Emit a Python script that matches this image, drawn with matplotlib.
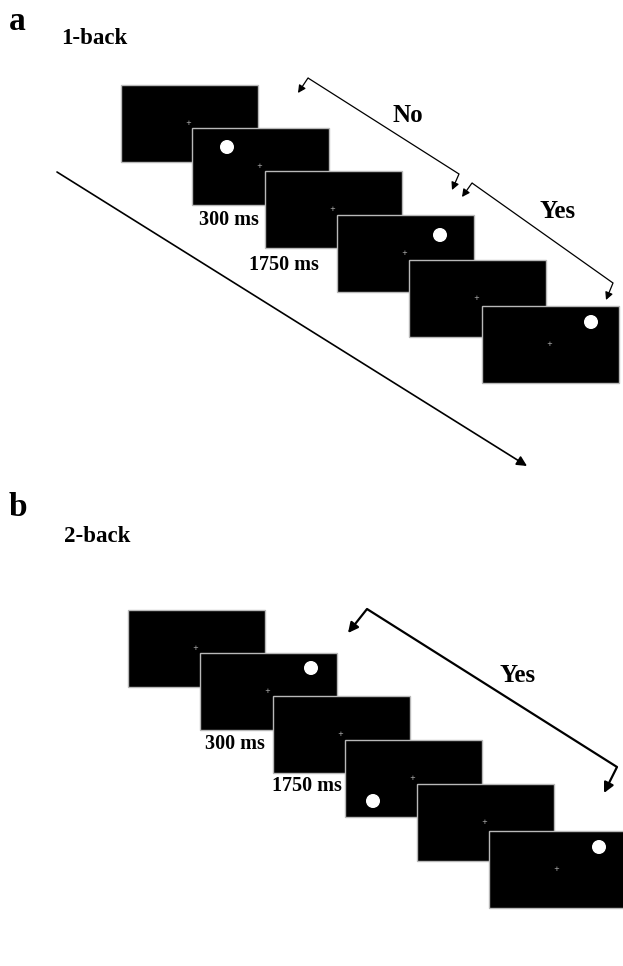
import matplotlib.pyplot as plt
from matplotlib.patches import Rectangle, Circle

plt.rcParams['font.family'] = ['Liberation Serif', 'DejaVu Serif']

# screen top-left corners (pixel coordinates, y down)
screens_a = [(121, 85), (192, 128), (265, 171), (337, 215), (409, 260), (482, 306)]
screens_b = [(128, 610), (200, 653), (273, 696), (345, 740), (417, 784), (489, 831)]
SCREEN_W, SCREEN_H = 137, 77

# stimulus dots and fixation crosses
dots_a = [(227, 147), (440, 235), (591, 322)]
dots_b = [(311, 668), (373, 801), (599, 847)]
cross_off = (67, 38)

# timing labels
time_labels = ["300 ms", "1750 ms"]
time_pos_a = [(229, 220), (284, 265)]
time_pos_b = [(235, 744), (307, 786)]

fig = plt.figure(figsize=(6.23, 9.66), dpi=100)
ax = fig.add_axes([0, 0, 1, 1])
ax.set_xlim(0, 623)
ax.set_ylim(966, 0)
ax.axis('off')


def draw_screens(corners, dots):
    for x, y in corners:
        ax.add_patch(Rectangle((x, y), SCREEN_W, SCREEN_H, facecolor='black',
                               edgecolor='#b8b8b8', lw=1.0))
        ax.text(x + cross_off[0], y + cross_off[1], '+', color='#bbbbbb',
                fontsize=5, ha='center', va='center', family='DejaVu Sans')
    for cx, cy in dots:
        ax.add_patch(Circle((cx, cy), 6.3, color='white'))


def arrow(x0, y0, x1, y1, lw, head=5):
    ax.annotate('', xy=(x1, y1), xytext=(x0, y0),
                arrowprops=dict(arrowstyle=f'-|>,head_length={head/10:.2f},head_width={head/20:.2f}',
                                color='black', lw=lw, shrinkA=0, shrinkB=0))


def bracket(p0, p1, t0, t1, lw, head=5):
    ax.plot([p0[0], p1[0]], [p0[1], p1[1]], color='black', lw=lw, solid_capstyle='butt')
    arrow(p0[0], p0[1], t0[0], t0[1], lw, head)
    arrow(p1[0], p1[1], t1[0], t1[1], lw, head)


# panel a: 1-back
draw_screens(screens_a, dots_a)
for lab, (x, y) in zip(time_labels, time_pos_a):
    ax.text(x, y, lab, fontsize=14.5, fontweight='bold', ha='center', va='center')
arrow(57, 172, 527, 466, 1.2, 6)
bracket((308, 78), (459, 174), (298, 93), (452, 190), 0.9, 4.5)
bracket((472, 183), (613, 283), (462, 197), (606, 300), 0.9, 4.5)
ax.text(408, 115, 'No', fontsize=18, fontweight='bold', ha='center', va='center')
ax.text(558, 212, 'Yes', fontsize=18, fontweight='bold', ha='center', va='center')
ax.text(9, 22, 'a', fontsize=24, fontweight='bold', ha='left', va='center')
ax.text(61, 38, '1-back', fontsize=16.5, fontweight='bold', ha='left', va='center')

# panel b: 2-back
draw_screens(screens_b, dots_b)
for lab, (x, y) in zip(time_labels, time_pos_b):
    ax.text(x, y, lab, fontsize=14.5, fontweight='bold', ha='center', va='center')
arrow(58, 703, 493, 968, 1.2, 6)
bracket((367, 609), (617, 767), (348, 633), (604, 793), 1.6, 6)
ax.text(518, 675, 'Yes', fontsize=18, fontweight='bold', ha='center', va='center')
ax.text(9, 508, 'b', fontsize=24, fontweight='bold', ha='left', va='center')
ax.text(64, 537, '2-back', fontsize=16.5, fontweight='bold', ha='left', va='center')

fig.savefig('out.png', dpi=100)
